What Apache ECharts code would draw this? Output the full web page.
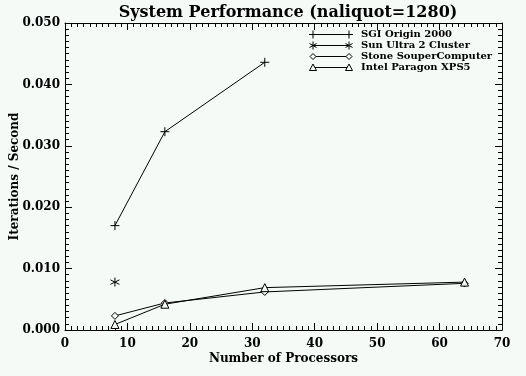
<!DOCTYPE html>
<html>
<head>
<meta charset="utf-8">
<script src="https://cdn.jsdelivr.net/npm/echarts@6/dist/echarts.min.js"></script>
<style>
 html, body { margin: 0; padding: 0; background: #f5faf7; }
 #main { width: 526px; height: 376px; }
</style>
</head>
<body>
<div id="main"></div>
<script>
 // data
 var seriesNames = ['SGI Origin 2000', 'Sun Ultra 2 Cluster', 'Stone SouperComputer', 'Intel Paragon XPS5'];
 var sgiOrigin = [[8, 0.0170], [16, 0.0323], [32, 0.0436]];
 var sunUltra = [[8, 0.0078]];
 var stoneSouper = [[8, 0.0023], [16, 0.0044], [32, 0.0062], [64, 0.0076]];
 var intelParagon = [[8, 0.0009], [16, 0.0042], [32, 0.0069], [64, 0.0078]];

 var bg = '#f5faf7';
 var font = '"DejaVu Serif", "Liberation Serif", serif';
 var symbols = [
     'path://M5,0L5,10M0,5L10,5',
     'path://M5,0L5,10M0.7,2.5L9.3,7.5M0.7,7.5L9.3,2.5',
     'diamond',
     'triangle'
 ];
 var sizes = [9, 9, 7, 8];
 var datas = [sgiOrigin, sunUltra, stoneSouper, intelParagon];

 var myChart = echarts.init(document.getElementById('main'));

 function axisCommon(showLabel) {
     return {
         axisLine: { show: true, onZero: false, lineStyle: { color: '#000', width: 1 } },
         axisTick: { show: true, inside: true, length: 7, lineStyle: { color: '#000' } },
         minorTick: { show: true, splitNumber: 10, length: 4, lineStyle: { color: '#000' } },
         splitLine: { show: false },
         axisLabel: {
             show: showLabel,
             color: '#000',
             fontFamily: font,
             fontWeight: 'bold',
             fontSize: 12
         }
     };
 }

 var xBottom = Object.assign(axisCommon(true), {
     type: 'value', min: 0, max: 70, interval: 10, position: 'bottom',
     name: 'Number of Processors', nameLocation: 'middle', nameGap: 23,
     nameMoveOverlap: false,
     nameTextStyle: { color: '#000', fontFamily: font, fontWeight: 'bold', fontSize: 12 }
 });
 xBottom.axisLabel.margin = 8;
 var xTop = Object.assign(axisCommon(false), {
     type: 'value', min: 0, max: 70, interval: 10, position: 'top'
 });
 var yLeft = Object.assign(axisCommon(true), {
     type: 'value', min: 0, max: 0.05, interval: 0.01, position: 'left',
     name: 'Iterations / Second', nameLocation: 'middle', nameGap: 44,
     nameMoveOverlap: false,
     nameTextStyle: { color: '#000', fontFamily: font, fontWeight: 'bold', fontSize: 12 }
 });
 yLeft.axisLabel.formatter = function (v) { return v.toFixed(3); };
 yLeft.axisLabel.margin = 5;
 var yRight = Object.assign(axisCommon(false), {
     type: 'value', min: 0, max: 0.05, interval: 0.01, position: 'right'
 });

 var series = seriesNames.map(function (name, i) {
     return {
         name: name,
         type: 'line',
         xAxisIndex: 0,
         yAxisIndex: 0,
         data: datas[i],
         symbol: symbols[i],
         symbolSize: sizes[i],
         showAllSymbol: true,
         animation: false,
         lineStyle: { color: '#000', width: 1 },
         itemStyle: { color: i < 2 ? 'none' : bg, borderColor: '#000', borderWidth: 1 }
     };
 });

 // legend drawn by hand: a line with the symbol at both ends, like the original
 var stroke = { stroke: '#000', lineWidth: 1 };
 function seg(x1, y1, x2, y2) {
     return { type: 'line', shape: { x1: x1, y1: y1, x2: x2, y2: y2 }, style: stroke };
 }
 function legendMark(i, x, y) {
     var kids;
     if (i === 0) kids = [seg(-4, 0, 4, 0), seg(0, -4, 0, 4)];
     else if (i === 1) kids = [seg(0, -4, 0, 4), seg(-3.5, -2, 3.5, 2), seg(-3.5, 2, 3.5, -2)];
     else if (i === 2) kids = [{ type: 'polygon', shape: { points: [[0, -3], [3, 0], [0, 3], [-3, 0]] }, style: { stroke: '#000', lineWidth: 1, fill: bg } }];
     else kids = [{ type: 'polygon', shape: { points: [[0, -3.5], [3.5, 3], [-3.5, 3]] }, style: { stroke: '#000', lineWidth: 1, fill: bg } }];
     return { type: 'group', x: x, y: y, children: kids };
 }
 var legendEls = [];
 seriesNames.forEach(function (name, i) {
     var y = 34.5 + i * 11;
     legendEls.push(seg(313, y, 349, y));
     legendEls.push(legendMark(i, 313, y));
     legendEls.push(legendMark(i, 349, y));
     legendEls.push({
         type: 'text', x: 361, y: y,
         style: { text: name, fill: '#000', font: 'bold 10px ' + font, textVerticalAlign: 'middle' }
     });
 });

 var option = {
     backgroundColor: bg,
     animation: false,
     title: {
         text: 'System Performance (naliquot=1280)',
         left: 283,
         textAlign: 'center',
         top: 0,
         textStyle: { color: '#000', fontFamily: font, fontWeight: 'bold', fontSize: 16 }
     },
     grid: { left: 65, right: 24, top: 23, bottom: 46, outerBoundsMode: 'none' },
     xAxis: [xBottom, xTop],
     yAxis: [yLeft, yRight],
     series: series,
     graphic: legendEls
 };

 myChart.setOption(option);
</script>
</body>
</html>
